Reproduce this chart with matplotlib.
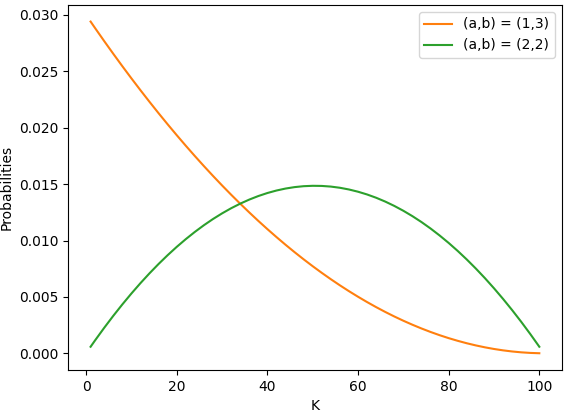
import matplotlib
matplotlib.use("Agg")
import matplotlib.pyplot as plt

# K values
K = [1, 2, 4, 6, 8, 10, 12, 14, 16, 18, 20, 22, 24, 26, 28, 30, 32, 34,
     36, 38, 40, 42, 44, 46, 48, 50, 52, 54, 56, 58, 60, 62, 64, 66, 68,
     70, 72, 74, 76, 78, 80, 82, 84, 86, 88, 90, 92, 94, 96, 98, 100]

# (a,b) = (1,3)
p_13 = [0.029412, 0.028829, 0.027682, 0.026558, 0.025457, 0.024380,
        0.023326, 0.022295, 0.021287, 0.020303, 0.019342, 0.018404,
        0.017490, 0.016599, 0.015731, 0.014886, 0.014065, 0.013267,
        0.012493, 0.011741, 0.011013, 0.010309, 0.009627, 0.008969,
        0.008334, 0.007723, 0.007135, 0.006570, 0.006028, 0.005510,
        0.005015, 0.004543, 0.004094, 0.003669, 0.003267, 0.002889,
        0.002534, 0.002202, 0.001893, 0.001607, 0.001345, 0.001107,
        0.000891, 0.000699, 0.000530, 0.000384, 0.000262, 0.000163,
        0.000087, 0.000035, 0.000006]

# (a,b) = (2,2)
p_22 = [0.000582, 0.001153, 0.002260, 0.003320, 0.004333, 0.005300,
        0.006220, 0.007094, 0.007921, 0.008701, 0.009435, 0.010122,
        0.010763, 0.011357, 0.011905, 0.012405, 0.012860, 0.013267,
        0.013628, 0.013943, 0.014211, 0.014432, 0.014607, 0.014735,
        0.014817, 0.014851, 0.014840, 0.014782, 0.014677, 0.014525,
        0.014327, 0.014083, 0.013792, 0.013454, 0.013069, 0.012638,
        0.012161, 0.011637, 0.011066, 0.010448, 0.009785, 0.009074,
        0.008317, 0.007513, 0.006663, 0.005766, 0.004822, 0.003832,
        0.002796, 0.001712, 0.000582]

fig = plt.figure(figsize=(5.68, 4.16), dpi=100)
plt.subplots_adjust(left=0.12, right=0.989, top=0.988, bottom=0.111)
plt.plot(K, p_13, color="C1", label="(a,b) = (1,3)")
plt.plot(K, p_22, color="C2", label="(a,b) = (2,2)")
plt.xlabel("K")
plt.ylabel("Probabilities")
plt.legend(loc="upper right")
plt.savefig("out.png", dpi=100)
